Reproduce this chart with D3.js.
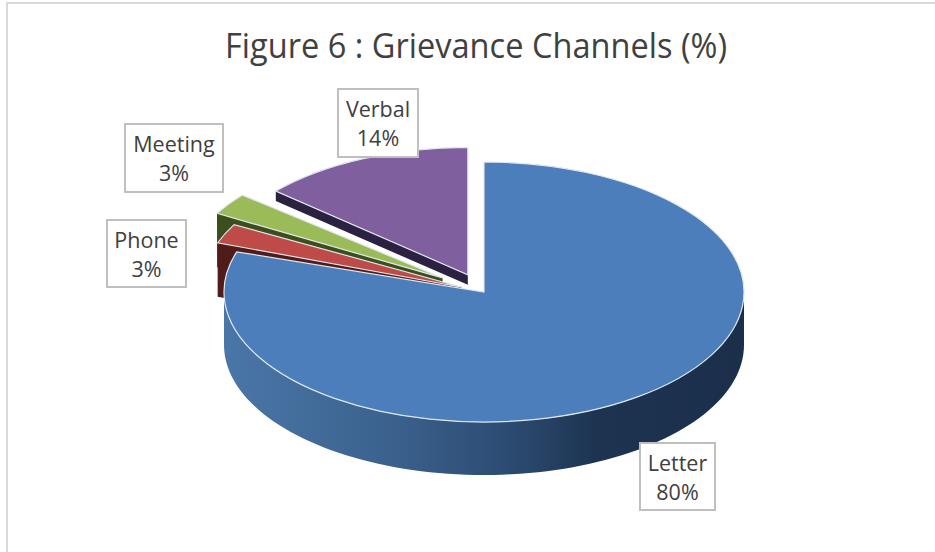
<!DOCTYPE html>
<html>
<head>
<meta charset="utf-8">
<script src="https://cdn.jsdelivr.net/npm/d3@7"></script>
<style>
    html, body { margin: 0; padding: 0; background: #fff; }
    svg { display: block; }
    text { font-family: "Open Sans", sans-serif; fill: #404040; }
</style>
</head>
<body>
<div id="chart"></div>
<script>
// chart values, clockwise from 12 o'clock
const channels = ['Letter', 'Phone', 'Meeting', 'Verbal']
const shares = [80, 3, 3, 14]
const title = 'Figure 6 : Grievance Channels (%)'

const topColors = ['#4c7ebb', '#be4b48', '#9bbb59', '#7f5f9e']
const faceColors = ['#1b2f4b', '#4f1c1a', '#3b4f1c', '#2b2140']
// how far each slice is pulled out of the pie, and how much of its cut face shows
const explode = [0, 24, 50, 38]
const faceDepth = [0, 54, 54, 10]
// small gap at the leading edge of a slice (degrees), and its size against the big slice
const startGap = [0, 2, 1, 1.5]
const radiusScale = [1, 1, 1, 0.98]

// label box: left, top, right, bottom
const labelBoxes = [
    [640, 443, 715, 510],
    [107, 220, 186, 287],
    [125, 124, 223, 192],
    [338, 89, 418, 157]
]

const width = 935
const height = 552
const cx = 484
const cy = 292
const rx = 260
const ry = 130
const depth = 53

const svg = d3.select('#chart').append('svg')
    .attr('width', width)
    .attr('height', height)

// outer frame
svg.append('path')
    .attr('d', `M7,${height}V3H${width}`)
    .attr('fill', 'none')
    .attr('stroke', '#d9d9d9')
    .attr('stroke-width', 2)

svg.append('text')
    .attr('x', 476)
    .attr('y', 58)
    .attr('text-anchor', 'middle')
    .attr('textLength', 502)
    .attr('lengthAdjust', 'spacingAndGlyphs')
    .style('font-size', '35px')
    .text(title)

// side wall of the big slice gets darker to the right
const wallGradient = svg.append('defs').append('linearGradient')
    .attr('id', 'wall-gradient')
wallGradient.selectAll('stop')
    .data([
        [0, '#4a76a8'],
        [0.3, '#3c638f'],
        [0.55, '#2c4b72'],
        [0.72, '#1d3350'],
        [1, '#1b2f4b']
    ])
    .join('stop')
    .attr('offset', d => d[0])
    .attr('stop-color', d => d[1])

const pie = d3.pie().sort(null)
const arc = d3.arc().innerRadius(0)
const slices = pie(shares)
const toRadians = d3.scaleLinear().domain([0, 180]).range([0, Math.PI])

// point on the rim of the flattened pie, relative to the slice's own centre
const rim = (angle, k = 1) => [k * rx * Math.sin(angle), -k * ry * Math.cos(angle)]
const line = d3.line()

// Letter's wall: the front half of the rim, extruded down
const wallPath = () => {
    const front = d3.range(0, 91).map(i => rim(Math.PI / 2 + i / 90 * Math.PI))
    const lower = front.slice().reverse().map(p => [p[0], p[1] + depth])
    return line(front.concat(lower)) + 'Z'
}

// cut face along the leading edge of a slice
const facePath = (angle, faceHeight, k) => {
    const p = rim(angle, k)
    return line([[0, 0], p, [p[0], p[1] + faceHeight], [0, faceHeight]]) + 'Z'
}

// back to front so the near slices cover the far ones
const order = [3, 2, 1, 0]
order.forEach(i => {
    const d = slices[i]
    const start = d.startAngle + toRadians(startGap[i])
    const mid = (d.startAngle + d.endAngle) / 2
    const g = svg.append('g')
        .attr('transform', `translate(${cx + explode[i] * Math.sin(mid)},${cy - explode[i] * (ry / rx) * Math.cos(mid)})`)

    if (i === 0) {
        g.append('path')
            .attr('d', wallPath())
            .attr('fill', 'url(#wall-gradient)')
    } else {
        g.append('path')
            .attr('d', facePath(start, faceDepth[i], radiusScale[i]))
            .attr('fill', faceColors[i])
    }

    g.append('path')
        .attr('d', arc({ outerRadius: rx * radiusScale[i], startAngle: start, endAngle: d.endAngle }))
        .attr('transform', `scale(1,${ry / rx})`)
        .attr('fill', topColors[i])
        .attr('stroke', '#dfe6ee')
        .attr('stroke-width', 1.2)
        .attr('vector-effect', 'non-scaling-stroke')
})

// labels
const labels = svg.selectAll('.data-label')
    .data(channels)
    .join('g')
    .attr('class', 'data-label')

labels.append('rect')
    .attr('x', (d, i) => labelBoxes[i][0])
    .attr('y', (d, i) => labelBoxes[i][1])
    .attr('width', (d, i) => labelBoxes[i][2] - labelBoxes[i][0])
    .attr('height', (d, i) => labelBoxes[i][3] - labelBoxes[i][1])
    .attr('fill', '#fff')
    .attr('stroke', '#bfbfbf')
    .attr('stroke-width', 2)

labels.append('text')
    .attr('x', (d, i) => (labelBoxes[i][0] + labelBoxes[i][2]) / 2)
    .attr('y', (d, i) => labelBoxes[i][1] + 28)
    .attr('text-anchor', 'middle')
    .style('font-size', '21.5px')
    .text(d => d)

labels.append('text')
    .attr('x', (d, i) => (labelBoxes[i][0] + labelBoxes[i][2]) / 2)
    .attr('y', (d, i) => labelBoxes[i][1] + 57)
    .attr('text-anchor', 'middle')
    .style('font-size', '21.5px')
    .text((d, i) => `${shares[i]}%`)
</script>
</body>
</html>
